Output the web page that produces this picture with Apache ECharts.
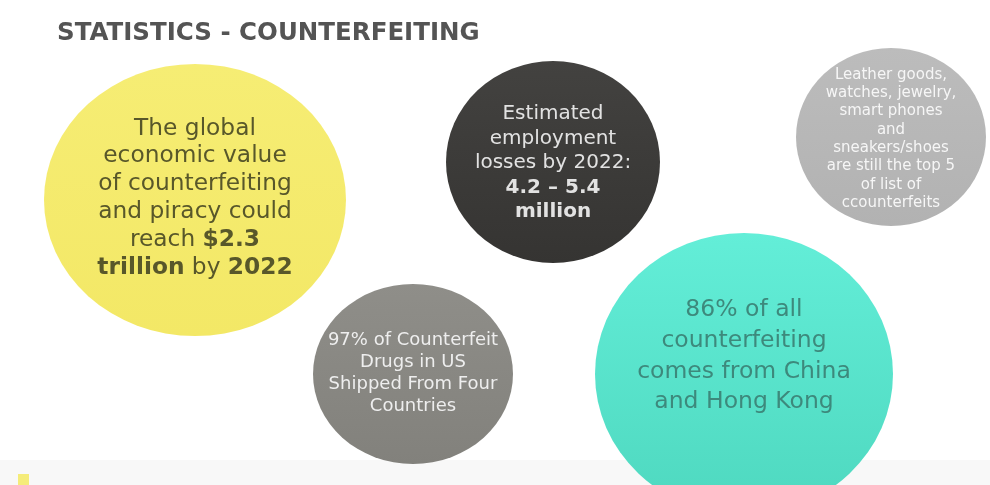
<!DOCTYPE html>
<html>
<head>
<meta charset="utf-8">
<script src="https://cdn.jsdelivr.net/npm/echarts@6/dist/echarts.min.js"></script>
<style>
  html, body { margin: 0; padding: 0; background: #fff; }
  #main { width: 990px; height: 485px; }
</style>
</head>
<body>
<div id="main"></div>
<script>
// bubble facts (centre x, centre y, width, height on a 990 x 485 board)
var names = ['value', 'jobs', 'goods', 'drugs', 'origin'];
var centreX = [195, 553, 891, 413, 744];
var centreY = [200, 162, 137, 374, 374];
var widths = [302, 214, 190, 200, 298];
var heights = [272, 202, 178, 180, 282];
var texts = [
    'The global\neconomic value\nof counterfeiting\nand piracy could\nreach {b|$2.3}\n{b|trillion} by {b|2022}',
    'Estimated\nemployment\nlosses by 2022:\n{b|4.2 – 5.4}\n{b|million}',
    'Leather goods,\nwatches, jewelry,\nsmart phones\nand\nsneakers/shoes\nare still the top 5\nof list of\nccounterfeits',
    '97% of Counterfeit\nDrugs in US\nShipped From Four\nCountries',
    '86% of all\ncounterfeiting\ncomes from China\nand Hong Kong'
];

var myChart = echarts.init(document.getElementById('main'));

var ellipse = 'path://M0,50 A50,50 0 1,1 100,50 A50,50 0 1,1 0,50 Z';
var fills = [
    ['#f6ed74', '#f3e866'],
    ['#434240', '#353432'],
    ['#bcbcbc', '#b2b2b2'],
    ['#8f8e89', '#82817c'],
    ['#63eed8', '#4ed8bf']
];
var labelStyles = [
    { fontSize: 23.3, lineHeight: 27.8, color: '#58572a', dy: -2 },
    { fontSize: 20, lineHeight: 24.5, color: '#e2e2e2', dy: 1 },
    { fontSize: 15, lineHeight: 18.3, color: '#f6f6f6', dy: 2 },
    { fontSize: 18, lineHeight: 22, color: '#eeeeee', dy: -1 },
    { fontSize: 23.5, lineHeight: 30.8, color: '#3d897c', dy: -18 }
];

var seriesData = names.map(function (n, i) {
    var ls = labelStyles[i];
    return {
        name: n,
        value: [centreX[i], centreY[i]],
        symbolSize: [widths[i], heights[i]],
        itemStyle: {
            opacity: 1,
            color: {
                type: 'linear', x: 0, y: 0, x2: 0, y2: 1,
                colorStops: [
                    { offset: 0, color: fills[i][0] },
                    { offset: 1, color: fills[i][1] }
                ]
            }
        },
        label: {
            show: true,
            position: 'inside',
            offset: [0, ls.dy],
            formatter: texts[i],
            fontFamily: 'DejaVu Sans',
            fontSize: ls.fontSize,
            lineHeight: ls.lineHeight,
            color: ls.color,
            align: 'center',
            rich: {
                b: {
                    fontFamily: 'DejaVu Sans',
                    fontWeight: 'bold',
                    fontSize: ls.fontSize,
                    lineHeight: ls.lineHeight,
                    color: ls.color
                }
            }
        }
    };
});

var option = {
    backgroundColor: '#ffffff',
    animation: false,
    title: {
        text: 'STATISTICS - COUNTERFEITING',
        left: 52,
        top: 16,
        textStyle: {
            fontFamily: 'DejaVu Sans',
            fontWeight: 'bold',
            fontSize: 24.5,
            color: '#545454'
        }
    },
    grid: { left: 0, right: 0, top: 0, bottom: 0 },
    xAxis: { type: 'value', min: 0, max: 990, show: false },
    yAxis: { type: 'value', min: 0, max: 485, inverse: true, show: false },
    graphic: [
        { type: 'rect', shape: { x: 0, y: 460, width: 990, height: 25 }, style: { fill: '#f8f8f8' }, z: -10 },
        { type: 'rect', shape: { x: 18, y: 474, width: 11, height: 11 }, style: { fill: '#f5ec7a' }, z: -5 }
    ],
    series: [{
        type: 'scatter',
        symbol: ellipse,
        data: seriesData
    }]
};
myChart.setOption(option);
</script>
</body>
</html>
